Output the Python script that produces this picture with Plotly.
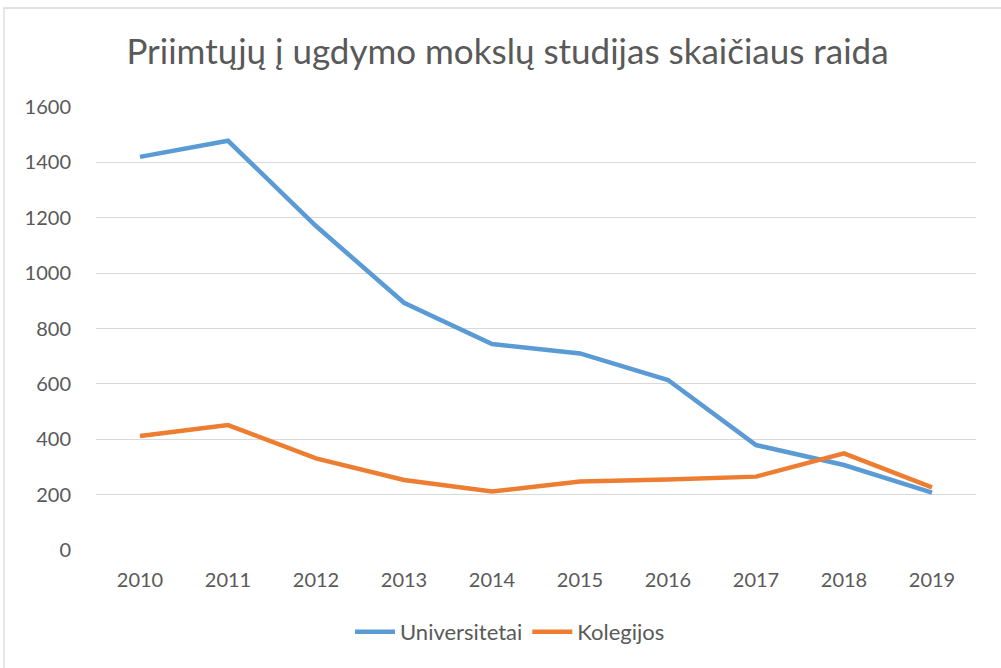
import plotly.graph_objects as go

years = ["2010", "2011", "2012", "2013", "2014", "2015", "2016", "2017", "2018", "2019"]
universitetai = [1420, 1478, 1170, 893, 744, 710, 614, 379, 307, 207]
kolegijos = [412, 451, 331, 253, 211, 247, 255, 265, 349, 226]
y_ticks = [0, 200, 400, 600, 800, 1000, 1200, 1400, 1600]

W, H = 1001, 668
L, R, T, B = 96, 25, 107, 118
pw, ph = W - L - R, H - T - B

fig = go.Figure()
fig.add_trace(go.Scatter(x=years, y=universitetai, mode="lines", name="Universitetai",
                         line=dict(color="#5B9BD5", width=4.5)))
fig.add_trace(go.Scatter(x=years, y=kolegijos, mode="lines", name="Kolegijos",
                         line=dict(color="#ED7D31", width=4.5)))

font_fam = "Lato, 'Open Sans', sans-serif"
fig.update_layout(
    width=W, height=H,
    margin=dict(l=L, r=R, t=T, b=B, autoexpand=False),
    paper_bgcolor="white", plot_bgcolor="white",
    font=dict(family=font_fam, color="#595959", size=20),
    title=dict(text="Priimtųjų į ugdymo mokslų studijas skaičiaus raida",
               x=0.507, xanchor="center", y=1 - 52 / H, yanchor="middle",
               font=dict(size=35, color="#595959", family=font_fam)),
    xaxis=dict(type="category", range=[-0.5, 9.5], showgrid=False, zeroline=False,
               showline=False, ticks="", tickfont=dict(size=20), ticklabelstandoff=16),
    yaxis=dict(range=[0, 1600], tickvals=y_ticks, showgrid=True, gridcolor="#D9D9D9",
               gridwidth=1.3, zeroline=False, showline=False, ticks="",
               tickfont=dict(size=20), ticklabelstandoff=24),
    legend=dict(orientation="h", x=(510 - L) / pw, xanchor="center",
                y=-(632 - (T + ph)) / ph, yanchor="middle", font=dict(size=22),
                itemwidth=40, traceorder="normal"),
    showlegend=True,
)

# outer chart border
fig.add_shape(type="rect", xref="paper", yref="paper",
              x0=(4 - L) / pw, x1=(W + 5 - L) / pw,
              y0=-(H + 5 - T - ph) / ph, y1=(T + ph - 8) / ph,
              line=dict(color="#D9D9D9", width=1.3), fillcolor="rgba(0,0,0,0)", layer="below")

fig.write_html("out.html", config={"displayModeBar": False},
               post_script="document.body.style.margin='0';document.body.style.overflow='hidden';")
